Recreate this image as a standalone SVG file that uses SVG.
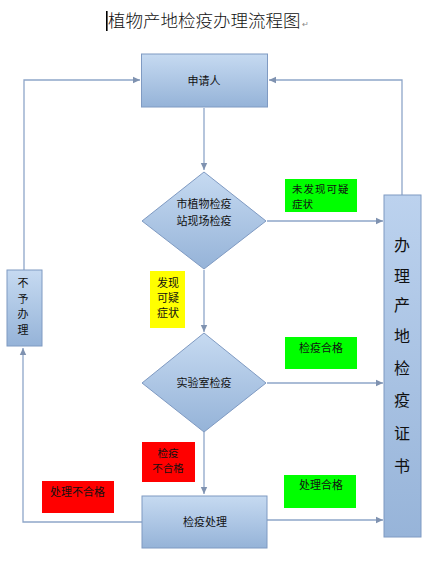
<svg xmlns="http://www.w3.org/2000/svg" width="448" height="577" viewBox="0 0 448 577">
<defs>
<linearGradient id="g" x1="0" y1="0" x2="0" y2="1">
<stop offset="0" stop-color="#c6daf1"/>
<stop offset="1" stop-color="#95b3d8"/>
</linearGradient>
<linearGradient id="gv" x1="0" y1="0" x2="0" y2="1">
<stop offset="0" stop-color="#bcd2ee"/>
<stop offset="1" stop-color="#97b4d9"/>
</linearGradient>
<marker id="a" markerWidth="8" markerHeight="8" refX="7" refY="4" orient="auto" markerUnits="userSpaceOnUse">
<path d="M0,0.8 L7,4 L0,7.2 Z" fill="#7f92b0"/>
</marker>
<style>
.box{fill:url(#g);stroke:#7f9ac2;stroke-width:1}
.ln{fill:none;stroke:#8ea6c9;stroke-width:1.3}
.t{font-family:"Noto Sans CJK SC","Noto Sans CJK JP",sans-serif;font-size:11px;fill:#111}
.s{font-size:10.5px}
.m{text-anchor:middle}
.big{font-family:"Noto Sans CJK SC",sans-serif;font-size:16px;fill:#111;text-anchor:middle}
.pm{font-family:"DejaVu Sans",sans-serif;font-size:8px;fill:#888}
</style>
</defs>
<rect width="448" height="577" fill="#ffffff"/>
<g id="title">
<rect x="106" y="11" width="1.6" height="20" fill="#000"/>
<text x="108" y="27" font-family="Noto Sans CJK SC,sans-serif" font-size="17.5" fill="#111" font-weight="300">植物产地检疫办理流程图<tspan class="pm" dx="1">↵</tspan></text>
</g>
<g id="connectors">
<path class="ln" d="M204,108 V170" marker-end="url(#a)"/>
<path class="ln" d="M267,221 H383" marker-end="url(#a)"/>
<path class="ln" d="M204,270 V332" marker-end="url(#a)"/>
<path class="ln" d="M267,383 H383" marker-end="url(#a)"/>
<path class="ln" d="M204,432 V494" marker-end="url(#a)"/>
<path class="ln" d="M267,520 H383" marker-end="url(#a)"/>
<path class="ln" d="M142,522 H23 V348" marker-end="url(#a)"/>
<path class="ln" d="M24,270 V80 H140" marker-end="url(#a)"/>
<path class="ln" d="M402,195 V80 H269" marker-end="url(#a)"/>
</g>
<g id="n-apply">
<rect class="box" x="141.5" y="54" width="126" height="53"/>
<text class="t m" x="204" y="85">申请人</text>
</g>
<g id="n-site">
<polygon class="box" points="204,172 266,221 204,269 142,221"/>
<text class="t m" x="204" y="208">市植物检疫</text>
<text class="t m" x="204" y="225">站现场检疫</text>
</g>
<g id="n-lab">
<polygon class="box" points="204,333 266,383 204,432 142,383"/>
<text class="t m" x="204" y="387">实验室检疫</text>
</g>
<g id="n-treat">
<rect class="box" x="142" y="496" width="125" height="52"/>
<text class="t m" x="205" y="526">检疫处理</text>
</g>
<g id="n-refuse">
<rect class="box" x="7" y="270" width="35" height="76"/>
<text class="t m" x="23" y="287" font-size="12">不</text>
<text class="t m" x="23" y="303" font-size="12">予</text>
<text class="t m" x="23" y="318" font-size="12">办</text>
<text class="t m" x="23" y="334" font-size="12">理</text>
</g>
<g id="n-cert">
<rect x="384" y="195" width="37" height="342" fill="url(#gv)" stroke="#7f9ac2" stroke-width="1"/>
<text class="big" x="402" y="251">办</text>
<text class="big" x="402" y="282">理</text>
<text class="big" x="402" y="311">产</text>
<text class="big" x="402" y="342">地</text>
<text class="big" x="402" y="374">检</text>
<text class="big" x="402" y="406">疫</text>
<text class="big" x="402" y="439">证</text>
<text class="big" x="402" y="472">书</text>
</g>
<g id="l-nofound">
<rect x="285" y="179" width="72" height="33" fill="#00ff00"/>
<text class="t s" x="292" y="193" letter-spacing="1">未发现可疑</text>
<text class="t s" x="292" y="208">症状</text>
</g>
<g id="l-found">
<rect x="150" y="271" width="35" height="57" fill="#ffff00"/>
<text class="t m" x="168" y="287" font-size="12">发现</text>
<text class="t m" x="168" y="302" font-size="12">可疑</text>
<text class="t m" x="168" y="317" font-size="12">症状</text>
</g>
<g id="l-pass">
<rect x="285" y="337" width="72" height="32" fill="#00ff00"/>
<text class="t m" x="321" y="352">检疫合格</text>
</g>
<g id="l-fail">
<rect x="142" y="442" width="53" height="40" fill="#ff0000"/>
<text class="t m s" x="168" y="457">检疫</text>
<text class="t m s" x="168" y="472">不合格</text>
</g>
<g id="l-tfail">
<rect x="42" y="481" width="72" height="32" fill="#ff0000"/>
<text class="t" x="50" y="496">处理不合格</text>
</g>
<g id="l-tpass">
<rect x="284" y="475" width="72" height="33" fill="#00ff00"/>
<text class="t m" x="321" y="489">处理合格</text>
</g>
</svg>
